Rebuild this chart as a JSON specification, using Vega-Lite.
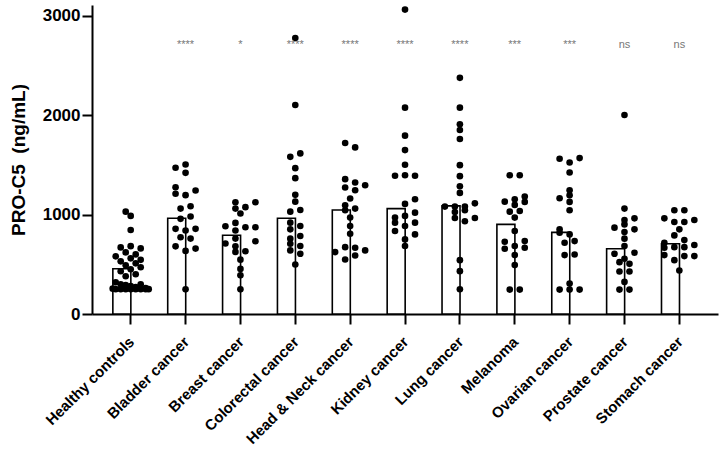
{
  "$schema": "https://vega.github.io/schema/vega-lite/v6.json",
  "width": 626, "height": 309,
  "autosize": {"type": "none"},
  "padding": {"left": 92, "top": 5, "right": 8, "bottom": 140},
  "background": "white",
  "config": {
    "view": {"stroke": null},
    "font": "Liberation Sans",
    "axis": {"grid": false, "domainColor": "black", "domainWidth": 2, "tickColor": "black", "tickWidth": 2, "tickSize": 10,
             "labelColor": "black", "labelFontWeight": "bold", "labelFont": "Liberation Sans", "titleFont": "Liberation Sans"}
  },
  "datasets": {
    "bars": [
      {"group": "Healthy controls", "mean": 455},
      {"group": "Bladder cancer", "mean": 963},
      {"group": "Breast cancer", "mean": 793},
      {"group": "Colorectal cancer", "mean": 963},
      {"group": "Head & Neck cancer", "mean": 1047},
      {"group": "Kidney cancer", "mean": 1061},
      {"group": "Lung cancer", "mean": 1088},
      {"group": "Melanoma", "mean": 902},
      {"group": "Ovarian cancer", "mean": 822},
      {"group": "Prostate cancer", "mean": 657},
      {"group": "Stomach cancer", "mean": 707}
    ],
    "sig": [
      {"group": "Bladder cancer", "label": "****"},
      {"group": "Breast cancer", "label": "*"},
      {"group": "Colorectal cancer", "label": "****"},
      {"group": "Head & Neck cancer", "label": "****"},
      {"group": "Kidney cancer", "label": "****"},
      {"group": "Lung cancer", "label": "****"},
      {"group": "Melanoma", "label": "***"},
      {"group": "Ovarian cancer", "label": "***"},
      {"group": "Prostate cancer", "label": "ns"},
      {"group": "Stomach cancer", "label": "ns"}
    ],
    "pts": [
      {"group": "Healthy controls", "v": 1030, "slot": -1}, {"group": "Healthy controls", "v": 987, "slot": 0},
      {"group": "Healthy controls", "v": 845, "slot": 0}, {"group": "Healthy controls", "v": 683, "slot": 0},
      {"group": "Healthy controls", "v": 670, "slot": -2}, {"group": "Healthy controls", "v": 660, "slot": 2},
      {"group": "Healthy controls", "v": 620, "slot": -1}, {"group": "Healthy controls", "v": 600, "slot": 1},
      {"group": "Healthy controls", "v": 580, "slot": -3}, {"group": "Healthy controls", "v": 560, "slot": 0},
      {"group": "Healthy controls", "v": 545, "slot": 2}, {"group": "Healthy controls", "v": 530, "slot": -2},
      {"group": "Healthy controls", "v": 510, "slot": 1}, {"group": "Healthy controls", "v": 490, "slot": -1},
      {"group": "Healthy controls", "v": 470, "slot": 2}, {"group": "Healthy controls", "v": 450, "slot": 0},
      {"group": "Healthy controls", "v": 430, "slot": -2}, {"group": "Healthy controls", "v": 400, "slot": 1},
      {"group": "Healthy controls", "v": 380, "slot": -1}, {"group": "Healthy controls", "v": 320, "slot": -3},
      {"group": "Healthy controls", "v": 300, "slot": -2}, {"group": "Healthy controls", "v": 290, "slot": -1},
      {"group": "Healthy controls", "v": 280, "slot": 0}, {"group": "Healthy controls", "v": 270, "slot": 1},
      {"group": "Healthy controls", "v": 300, "slot": 2}, {"group": "Healthy controls", "v": 260, "slot": 3},
      {"group": "Healthy controls", "v": 250, "slot": -3}, {"group": "Healthy controls", "v": 250, "slot": -2},
      {"group": "Healthy controls", "v": 250, "slot": -1}, {"group": "Healthy controls", "v": 250, "slot": 0},
      {"group": "Healthy controls", "v": 250, "slot": 1}, {"group": "Healthy controls", "v": 250, "slot": 2},
      {"group": "Healthy controls", "v": 250, "slot": 3}, {"group": "Healthy controls", "v": 255, "slot": -3.6},
      {"group": "Healthy controls", "v": 250, "slot": 3.6},

      {"group": "Bladder cancer", "v": 1472, "slot": -2}, {"group": "Bladder cancer", "v": 1505, "slot": 0},
      {"group": "Bladder cancer", "v": 1421, "slot": 0}, {"group": "Bladder cancer", "v": 1276, "slot": -2},
      {"group": "Bladder cancer", "v": 1210, "slot": -2}, {"group": "Bladder cancer", "v": 1196, "slot": 0},
      {"group": "Bladder cancer", "v": 1243, "slot": 2}, {"group": "Bladder cancer", "v": 1061, "slot": -1},
      {"group": "Bladder cancer", "v": 1085, "slot": 1}, {"group": "Bladder cancer", "v": 958, "slot": -1},
      {"group": "Bladder cancer", "v": 981, "slot": 1}, {"group": "Bladder cancer", "v": 857, "slot": -2},
      {"group": "Bladder cancer", "v": 840, "slot": 0}, {"group": "Bladder cancer", "v": 857, "slot": 2},
      {"group": "Bladder cancer", "v": 772, "slot": -1}, {"group": "Bladder cancer", "v": 759, "slot": 1},
      {"group": "Bladder cancer", "v": 681, "slot": -2}, {"group": "Bladder cancer", "v": 635, "slot": 0},
      {"group": "Bladder cancer", "v": 658, "slot": 2}, {"group": "Bladder cancer", "v": 248, "slot": 0},

      {"group": "Breast cancer", "v": 1125, "slot": -1}, {"group": "Breast cancer", "v": 1125, "slot": 3},
      {"group": "Breast cancer", "v": 1061, "slot": -1}, {"group": "Breast cancer", "v": 1075, "slot": 1},
      {"group": "Breast cancer", "v": 1011, "slot": 0}, {"group": "Breast cancer", "v": 917, "slot": -1},
      {"group": "Breast cancer", "v": 883, "slot": -3}, {"group": "Breast cancer", "v": 873, "slot": 1},
      {"group": "Breast cancer", "v": 873, "slot": 3}, {"group": "Breast cancer", "v": 840, "slot": -1},
      {"group": "Breast cancer", "v": 759, "slot": -1}, {"group": "Breast cancer", "v": 709, "slot": -3},
      {"group": "Breast cancer", "v": 732, "slot": 3}, {"group": "Breast cancer", "v": 681, "slot": -1},
      {"group": "Breast cancer", "v": 625, "slot": -1}, {"group": "Breast cancer", "v": 631, "slot": 1},
      {"group": "Breast cancer", "v": 547, "slot": 0}, {"group": "Breast cancer", "v": 454, "slot": 0},
      {"group": "Breast cancer", "v": 389, "slot": 0}, {"group": "Breast cancer", "v": 248, "slot": 0},

      {"group": "Colorectal cancer", "v": 2778, "slot": 0}, {"group": "Colorectal cancer", "v": 2104, "slot": 0},
      {"group": "Colorectal cancer", "v": 1616, "slot": 1}, {"group": "Colorectal cancer", "v": 1582, "slot": -1},
      {"group": "Colorectal cancer", "v": 1468, "slot": 0}, {"group": "Colorectal cancer", "v": 1367, "slot": 0},
      {"group": "Colorectal cancer", "v": 1199, "slot": 0}, {"group": "Colorectal cancer", "v": 1131, "slot": 0},
      {"group": "Colorectal cancer", "v": 1047, "slot": 1}, {"group": "Colorectal cancer", "v": 1030, "slot": -1},
      {"group": "Colorectal cancer", "v": 919, "slot": -1}, {"group": "Colorectal cancer", "v": 886, "slot": 1},
      {"group": "Colorectal cancer", "v": 852, "slot": -1}, {"group": "Colorectal cancer", "v": 785, "slot": 1},
      {"group": "Colorectal cancer", "v": 758, "slot": -1}, {"group": "Colorectal cancer", "v": 707, "slot": -1},
      {"group": "Colorectal cancer", "v": 684, "slot": 1}, {"group": "Colorectal cancer", "v": 640, "slot": -1},
      {"group": "Colorectal cancer", "v": 606, "slot": 1}, {"group": "Colorectal cancer", "v": 498, "slot": 0},

      {"group": "Head & Neck cancer", "v": 1721, "slot": -1}, {"group": "Head & Neck cancer", "v": 1677, "slot": 1},
      {"group": "Head & Neck cancer", "v": 1357, "slot": -1}, {"group": "Head & Neck cancer", "v": 1323, "slot": 1},
      {"group": "Head & Neck cancer", "v": 1273, "slot": -1}, {"group": "Head & Neck cancer", "v": 1246, "slot": 1},
      {"group": "Head & Neck cancer", "v": 1296, "slot": 3}, {"group": "Head & Neck cancer", "v": 1162, "slot": 0},
      {"group": "Head & Neck cancer", "v": 1094, "slot": -1}, {"group": "Head & Neck cancer", "v": 1044, "slot": -1},
      {"group": "Head & Neck cancer", "v": 1061, "slot": 1}, {"group": "Head & Neck cancer", "v": 970, "slot": 0},
      {"group": "Head & Neck cancer", "v": 886, "slot": 0}, {"group": "Head & Neck cancer", "v": 808, "slot": 0},
      {"group": "Head & Neck cancer", "v": 623, "slot": -3}, {"group": "Head & Neck cancer", "v": 673, "slot": -1},
      {"group": "Head & Neck cancer", "v": 667, "slot": 1}, {"group": "Head & Neck cancer", "v": 640, "slot": 3},
      {"group": "Head & Neck cancer", "v": 549, "slot": -1}, {"group": "Head & Neck cancer", "v": 589, "slot": 1},

      {"group": "Kidney cancer", "v": 3064, "slot": 0}, {"group": "Kidney cancer", "v": 2077, "slot": 0},
      {"group": "Kidney cancer", "v": 1795, "slot": 0}, {"group": "Kidney cancer", "v": 1650, "slot": 0},
      {"group": "Kidney cancer", "v": 1502, "slot": 0}, {"group": "Kidney cancer", "v": 1391, "slot": -2},
      {"group": "Kidney cancer", "v": 1397, "slot": 0}, {"group": "Kidney cancer", "v": 1391, "slot": 2},
      {"group": "Kidney cancer", "v": 1108, "slot": 0}, {"group": "Kidney cancer", "v": 1155, "slot": 2},
      {"group": "Kidney cancer", "v": 970, "slot": -2}, {"group": "Kidney cancer", "v": 987, "slot": 0},
      {"group": "Kidney cancer", "v": 1020, "slot": 2}, {"group": "Kidney cancer", "v": 919, "slot": -2},
      {"group": "Kidney cancer", "v": 886, "slot": 0}, {"group": "Kidney cancer", "v": 835, "slot": -2},
      {"group": "Kidney cancer", "v": 919, "slot": 2}, {"group": "Kidney cancer", "v": 801, "slot": 2},
      {"group": "Kidney cancer", "v": 751, "slot": 0}, {"group": "Kidney cancer", "v": 684, "slot": 0},

      {"group": "Lung cancer", "v": 2377, "slot": 0}, {"group": "Lung cancer", "v": 2077, "slot": 0},
      {"group": "Lung cancer", "v": 1909, "slot": 0}, {"group": "Lung cancer", "v": 1852, "slot": 0},
      {"group": "Lung cancer", "v": 1761, "slot": 0}, {"group": "Lung cancer", "v": 1498, "slot": 0},
      {"group": "Lung cancer", "v": 1387, "slot": 0}, {"group": "Lung cancer", "v": 1286, "slot": 0},
      {"group": "Lung cancer", "v": 1219, "slot": 0}, {"group": "Lung cancer", "v": 1081, "slot": -3},
      {"group": "Lung cancer", "v": 1081, "slot": -1}, {"group": "Lung cancer", "v": 1081, "slot": 1},
      {"group": "Lung cancer", "v": 1114, "slot": 3}, {"group": "Lung cancer", "v": 1027, "slot": -1},
      {"group": "Lung cancer", "v": 1044, "slot": 1}, {"group": "Lung cancer", "v": 966, "slot": -1},
      {"group": "Lung cancer", "v": 933, "slot": 1}, {"group": "Lung cancer", "v": 966, "slot": 3},
      {"group": "Lung cancer", "v": 542, "slot": 0}, {"group": "Lung cancer", "v": 431, "slot": 0},
      {"group": "Lung cancer", "v": 249, "slot": 0},

      {"group": "Melanoma", "v": 1397, "slot": -1}, {"group": "Melanoma", "v": 1397, "slot": 1},
      {"group": "Melanoma", "v": 1131, "slot": -2}, {"group": "Melanoma", "v": 1155, "slot": 0},
      {"group": "Melanoma", "v": 1182, "slot": 2}, {"group": "Melanoma", "v": 1098, "slot": 0},
      {"group": "Melanoma", "v": 1128, "slot": 2}, {"group": "Melanoma", "v": 1030, "slot": -1},
      {"group": "Melanoma", "v": 1037, "slot": 1}, {"group": "Melanoma", "v": 970, "slot": 0},
      {"group": "Melanoma", "v": 835, "slot": 0}, {"group": "Melanoma", "v": 727, "slot": -2},
      {"group": "Melanoma", "v": 684, "slot": 0}, {"group": "Melanoma", "v": 734, "slot": 2},
      {"group": "Melanoma", "v": 657, "slot": -2}, {"group": "Melanoma", "v": 667, "slot": 2},
      {"group": "Melanoma", "v": 593, "slot": 0}, {"group": "Melanoma", "v": 492, "slot": 0},
      {"group": "Melanoma", "v": 246, "slot": -1}, {"group": "Melanoma", "v": 246, "slot": 1},

      {"group": "Ovarian cancer", "v": 1562, "slot": -2}, {"group": "Ovarian cancer", "v": 1525, "slot": 0},
      {"group": "Ovarian cancer", "v": 1569, "slot": 2}, {"group": "Ovarian cancer", "v": 1424, "slot": 0},
      {"group": "Ovarian cancer", "v": 1246, "slot": 0}, {"group": "Ovarian cancer", "v": 1195, "slot": 0},
      {"group": "Ovarian cancer", "v": 1165, "slot": -2}, {"group": "Ovarian cancer", "v": 1128, "slot": 0},
      {"group": "Ovarian cancer", "v": 1044, "slot": 0}, {"group": "Ovarian cancer", "v": 852, "slot": -2},
      {"group": "Ovarian cancer", "v": 818, "slot": -2}, {"group": "Ovarian cancer", "v": 801, "slot": 0},
      {"group": "Ovarian cancer", "v": 717, "slot": -1}, {"group": "Ovarian cancer", "v": 734, "slot": 1},
      {"group": "Ovarian cancer", "v": 593, "slot": -1}, {"group": "Ovarian cancer", "v": 599, "slot": 1},
      {"group": "Ovarian cancer", "v": 306, "slot": 0}, {"group": "Ovarian cancer", "v": 246, "slot": -2},
      {"group": "Ovarian cancer", "v": 246, "slot": 0}, {"group": "Ovarian cancer", "v": 246, "slot": 2},

      {"group": "Prostate cancer", "v": 2003, "slot": 0}, {"group": "Prostate cancer", "v": 1061, "slot": 0},
      {"group": "Prostate cancer", "v": 869, "slot": -2}, {"group": "Prostate cancer", "v": 946, "slot": 0},
      {"group": "Prostate cancer", "v": 963, "slot": 2}, {"group": "Prostate cancer", "v": 902, "slot": 0},
      {"group": "Prostate cancer", "v": 852, "slot": 2}, {"group": "Prostate cancer", "v": 825, "slot": 0},
      {"group": "Prostate cancer", "v": 758, "slot": 0}, {"group": "Prostate cancer", "v": 684, "slot": 0},
      {"group": "Prostate cancer", "v": 606, "slot": -2}, {"group": "Prostate cancer", "v": 616, "slot": 2},
      {"group": "Prostate cancer", "v": 556, "slot": 0}, {"group": "Prostate cancer", "v": 522, "slot": -1},
      {"group": "Prostate cancer", "v": 505, "slot": 1}, {"group": "Prostate cancer", "v": 428, "slot": -1},
      {"group": "Prostate cancer", "v": 428, "slot": 1}, {"group": "Prostate cancer", "v": 323, "slot": 0},
      {"group": "Prostate cancer", "v": 246, "slot": -1}, {"group": "Prostate cancer", "v": 246, "slot": 1},

      {"group": "Stomach cancer", "v": 1044, "slot": -1}, {"group": "Stomach cancer", "v": 1044, "slot": 1},
      {"group": "Stomach cancer", "v": 963, "slot": -3}, {"group": "Stomach cancer", "v": 926, "slot": -1},
      {"group": "Stomach cancer", "v": 926, "slot": 1}, {"group": "Stomach cancer", "v": 946, "slot": 3},
      {"group": "Stomach cancer", "v": 852, "slot": 0}, {"group": "Stomach cancer", "v": 791, "slot": -1},
      {"group": "Stomach cancer", "v": 744, "slot": 1}, {"group": "Stomach cancer", "v": 717, "slot": -3},
      {"group": "Stomach cancer", "v": 667, "slot": -3}, {"group": "Stomach cancer", "v": 593, "slot": -3},
      {"group": "Stomach cancer", "v": 673, "slot": -1}, {"group": "Stomach cancer", "v": 673, "slot": 1},
      {"group": "Stomach cancer", "v": 694, "slot": 3}, {"group": "Stomach cancer", "v": 542, "slot": -1},
      {"group": "Stomach cancer", "v": 583, "slot": 1}, {"group": "Stomach cancer", "v": 583, "slot": 3},
      {"group": "Stomach cancer", "v": 438, "slot": 0}
    ]
  },
  "encoding": {
    "x": {
      "field": "group", "type": "nominal", "sort": null,
      "scale": {
        "domain": ["Healthy controls", "Bladder cancer", "Breast cancer", "Colorectal cancer", "Head & Neck cancer", "Kidney cancer", "Lung cancer", "Melanoma", "Ovarian cancer", "Prostate cancer", "Stomach cancer"],
        "paddingInner": 0.35, "paddingOuter": 0.38
      },
      "axis": {"title": null, "labelAngle": -45, "labelFontSize": 15, "labelPadding": 10, "labelOffset": -4}
    }
  },
  "layer": [
    {
      "data": {"name": "bars"},
      "mark": {"type": "bar", "fill": "white", "stroke": "black", "strokeWidth": 1.6},
      "encoding": {
        "y": {
          "field": "mean", "type": "quantitative",
          "scale": {"domain": [0, 3110], "nice": false},
          "axis": {"values": [0, 1000, 2000, 3000], "format": "d", "title": "PRO-C5\u00a0\u00a0(ng/mL)", "titleFontSize": 19, "titleFontWeight": "bold",
                   "titleColor": "black", "labelFontSize": 17, "labelPadding": 2, "titlePadding": 14}
        }
      }
    },
    {
      "data": {"name": "pts"},
      "mark": {"type": "circle", "color": "black", "opacity": 1, "size": 44},
      "encoding": {
        "y": {"field": "v", "type": "quantitative"},
        "xOffset": {"field": "slot", "type": "quantitative", "scale": {"domain": [-3.57, 3.57], "range": [0, 35.7]}}
      }
    },
    {
      "data": {"name": "sig"},
      "mark": {"type": "text", "fill": "#777777", "font": "Liberation Sans"},
      "encoding": {
        "y": {"datum": 2705, "type": "quantitative"},
        "text": {"field": "label"},
        "fontSize": {"condition": {"test": "datum.label === 'ns'", "value": 8}, "value": 11}
      }
    }
  ]
}
